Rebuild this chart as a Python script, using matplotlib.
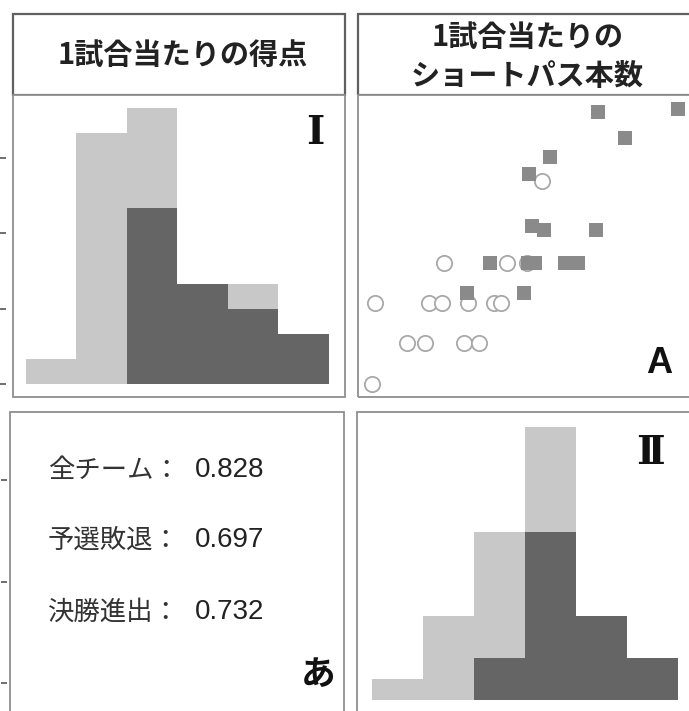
import matplotlib
matplotlib.use("Agg")
import matplotlib.pyplot as plt
from matplotlib.patches import Rectangle

# ---------------- data ----------------
goal_edges = [0.3, 0.7, 1.1, 1.5, 1.9, 2.3, 2.7]          # 1試合当たりの得点 bins
goal_elim = [1, 10, 4, 0, 1, 0]                             # 予選敗退 (light)
goal_adv = [0, 0, 7, 4, 3, 2]                               # 決勝進出 (dark)

pass_edges = [200, 250, 300, 350, 400, 450, 500]           # ショートパス本数 bins
pass_elim = [1, 4, 6, 5, 0, 0]
pass_adv = [0, 0, 2, 8, 4, 2]

elim_pass = [203, 256, 269, 294, 320, 327, 234, 252, 290, 305, 200, 271, 332, 352, 367]
elim_goal = [1.00, 1.00, 1.00, 1.00, 1.00, 1.00, 0.67, 0.67, 0.67, 0.67, 0.33, 1.33, 1.33, 1.33, 2.00]
adv_pass = [422, 500, 448, 375, 354, 357, 369, 420, 316, 353, 360, 389, 402, 293, 349]
adv_goal = [2.57, 2.60, 2.36, 2.20, 2.06, 1.63, 1.60, 1.60, 1.33, 1.33, 1.33, 1.33, 1.33, 1.08, 1.08]

corr_labels = ["全チーム：", "予選敗退：", "決勝進出："]
corr_values = [0.828, 0.697, 0.732]

header_left = "1試合当たりの得点"
header_right = ["1試合当たりの", "ショートパス本数"]

# ---------------- style ----------------
LIGHT = "#c8c8c8"
DARK = "#656565"
SQ = "#8a8a8a"
CIRC = "#a8a8a8"
JP = "Noto Sans CJK JP"

W, H = 689, 711
fig = plt.figure(figsize=(W / 100, H / 100), dpi=100)


def add_ax(x0, y0, x1, y1):
    return fig.add_axes([x0 / W, 1 - y1 / H, (x1 - x0) / W, (y1 - y0) / H])


def frame(ax, color="#8f8f8f", lw=1.3):
    for s in ax.spines.values():
        s.set_color("none")
    ax.add_patch(Rectangle((0, 0), 1, 1, transform=ax.transAxes, fill=False,
                           edgecolor=color, linewidth=lw, clip_on=False, zorder=10))
    ax.set_xticks([])


def left_ticks(ax, ticks, outward):
    ax.spines["left"].set_position(("outward", outward))
    ax.set_yticks(ticks)
    ax.tick_params(axis="y", direction="out", length=4, width=1.2,
                   color="#555555", labelleft=False)


# headers
hl = add_ax(13, 14, 345, 95)
frame(hl, "#606060", 1.6)
hl.set_yticks([])
hl.text(0.51, 0.49, header_left, transform=hl.transAxes, ha="center", va="center",
        fontsize=21, fontweight="bold", family=JP, color="#222222")

hr = add_ax(358, 14, 693, 95)
frame(hr, "#606060", 1.6)
hr.set_yticks([])
hr.text(0.505, 0.72, header_right[0], transform=hr.transAxes, ha="center", va="center",
        fontsize=21, fontweight="bold", family=JP, color="#222222")
hr.text(0.505, 0.24, header_right[1], transform=hr.transAxes, ha="center", va="center",
        fontsize=21, fontweight="bold", family=JP, color="#222222")

# histogram I (goals)
a1 = add_ax(13, 95, 345, 397)
frame(a1)
gw = [goal_edges[i + 1] - goal_edges[i] for i in range(6)]
a1.bar(goal_edges[:-1], goal_adv, width=gw, align="edge", color=DARK, linewidth=0)
a1.bar(goal_edges[:-1], goal_elim, width=gw, bottom=goal_adv, align="edge", color=LIGHT, linewidth=0)
a1.set_xlim(0.197, 2.827)
a1.set_ylim(-0.518, 11.51)
left_ticks(a1, [0, 3, 6, 9], 5)
a1.text(0.91, 0.875, "Ⅰ", transform=a1.transAxes, ha="center", va="center",
        fontsize=28, fontweight="bold", family=["DejaVu Serif", JP], color="#111111")

# scatter
a2 = add_ax(358, 95, 693, 397)
frame(a2)
a2.set_yticks([])
a2.plot(elim_pass, elim_goal, linestyle="none", marker="o", markersize=11,
        markerfacecolor="white", markeredgecolor=CIRC, markeredgewidth=1.3, zorder=2)
a2.plot(adv_pass, adv_goal, linestyle="none", marker="s", markersize=10.5,
        markerfacecolor=SQ, markeredgecolor=SQ, markeredgewidth=0, zorder=3)
a2.set_xlim(186.2, 515)
a2.set_ylim(0.226, 2.712)
a2.text(0.9, 0.079, "A", transform=a2.transAxes, ha="center", va="baseline",
        fontsize=26, fontweight="bold", family="Liberation Sans", color="#111111")

# correlation text panel
a3 = add_ax(10, 412, 344, 714)
frame(a3)
a3.set_ylim(69.5, 367)
left_ticks(a3, [100, 200, 300], 2)
ys = [0.808, 0.576, 0.338]
for lab, val, y in zip(corr_labels, corr_values, ys):
    a3.text(0.114, y, lab, transform=a3.transAxes, ha="left", va="center",
            fontsize=19, family=JP, color="#333333")
    a3.text(0.554, y, f"{val:.3f}", transform=a3.transAxes, ha="left", va="center",
            fontsize=20, family="Liberation Sans", color="#222222")
a3.text(0.922, 0.13, "あ", transform=a3.transAxes, ha="center", va="center",
        fontsize=25, fontweight="bold", family=JP, color="#111111")

# histogram II (passes)
a4 = add_ax(357, 412, 693, 714)
frame(a4)
a4.set_yticks([])
pw = [pass_edges[i + 1] - pass_edges[i] for i in range(6)]
a4.bar(pass_edges[:-1], pass_adv, width=pw, align="edge", color=DARK, linewidth=0)
a4.bar(pass_edges[:-1], pass_elim, width=pw, bottom=pass_adv, align="edge", color=LIGHT, linewidth=0)
a4.set_xlim(185.2, 515)
a4.set_ylim(-0.667, 13.71)
a4.text(0.872, 0.864, "Ⅱ", transform=a4.transAxes, ha="center", va="center",
        fontsize=28, fontweight="bold", family=["DejaVu Serif", JP], color="#111111")

fig.savefig("out.png", dpi=100, facecolor="white")
